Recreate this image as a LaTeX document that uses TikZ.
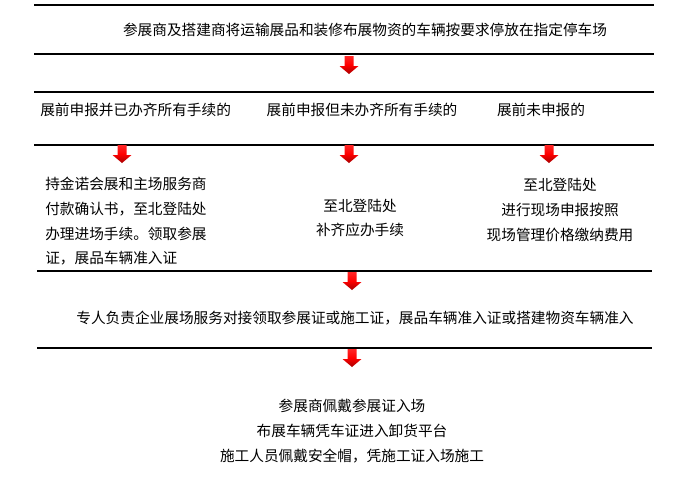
\documentclass[tikz,border=0pt]{standalone}
\usepackage{fontspec}
\newfontfamily\cjk{Noto Sans CJK SC}
\newcommand\myredarrow[1]{\shade[top color=red!85!white,bottom color=red!65!black,middle color=red]
  ([shift={(-4.5,-9)}]#1) -- ([shift={(4.5,-9)}]#1) -- ([shift={(4.5,1)}]#1) -- ([shift={(9.5,1)}]#1)
  -- ([shift={(0,9)}]#1) -- ([shift={(-9.5,1)}]#1) -- ([shift={(-4.5,1)}]#1) -- cycle;}
\begin{document}
\begin{tikzpicture}[x=0.75pt,y=-0.75pt,
  txt/.style={font=\cjk\fontsize{11}{17}\selectfont,inner sep=0pt},
  sep/.style={line width=0.9pt}]
\useasboundingbox (0,0) rectangle (693,476);
\draw[sep] (34,5) -- (654,5);
\draw[sep] (34,54) -- (654,54);
\draw[sep] (34,92) -- (654,92);
\draw[sep] (34,145) -- (654,145);
\draw[sep] (37,271) -- (652,271);
\draw[sep] (37,348) -- (652,348);
\node[txt] (t1) at (365,30) {参展商及搭建商将运输展品和装修布展物资的车辆按要求停放在指定停车场};
\coordinate (a1) at (349,65); \myredarrow{a1}
\node[txt,anchor=west] (b1) at (40,110) {展前申报并已办齐所有手续的};
\node[txt] (b2) at (362,110) {展前申报但未办齐所有手续的};
\node[txt] (b3) at (541,110) {展前未申报的};
\coordinate (a2) at (122,154); \myredarrow{a2}
\coordinate (a3) at (349,154); \myredarrow{a3}
\coordinate (a4) at (549,154); \myredarrow{a4}
\node[txt,anchor=north west,align=left] (c1) at (45,177) {持金诺会展和主场服务商\\[1.5pt]付款确认书，至北登陆处\\[1.5pt]办理进场手续。领取参展\\[1.5pt]证，展品车辆准入证};
\node[txt,align=center] (c2) at (360,218) {至北登陆处\\[1.5pt]补齐应办手续};
\node[txt,align=center] (c3) at (560,210) {至北登陆处\\[1.5pt]进行现场申报按照\\[1.5pt]现场管理价格缴纳费用};
\coordinate (a5) at (352,281); \myredarrow{a5}
\node[txt] (d1) at (355,318) {专人负责企业展场服务对接领取参展证或施工证，展品车辆准入证或搭建物资车辆准入};
\coordinate (a6) at (352,358); \myredarrow{a6}
\node[txt,align=center] (e1) at (352,431) {参展商佩戴参展证入场\\[1.5pt]布展车辆凭车证进入卸货平台\\[1.5pt]施工人员佩戴安全帽，凭施工证入场施工};
\end{tikzpicture}
\end{document}
